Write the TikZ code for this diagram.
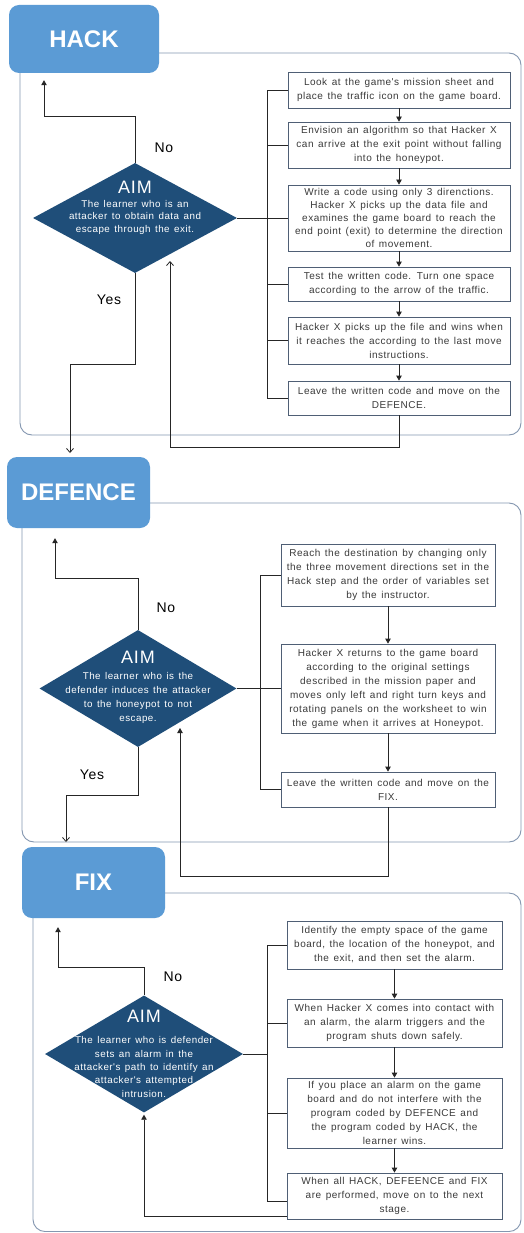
\documentclass[tikz,border=0pt]{standalone}
\usepackage{fontspec}
\setmainfont{Liberation Sans}
\newfontfamily\boxfont{Liberation Sans}[LetterSpace=5,WordSpace=1.4]
\usetikzlibrary{arrows.meta,shapes.geometric}
\definecolor{titlec}{HTML}{5B9BD5}
\definecolor{aimc}{HTML}{1F4E79}
\definecolor{panelc}{HTML}{8497B0}
\definecolor{boxc}{HTML}{4F5F75}
\definecolor{txtc}{HTML}{3A3A3A}
\definecolor{linec}{HTML}{262626}
\tikzset{
  panel/.style={draw=panelc, line width=0.9pt, rounded corners=12pt},
  titlebox/.style={fill=titlec, rounded corners=10pt, text=white, inner sep=0pt,
    font=\fontsize{24}{28}\selectfont\bfseries},
  aimshape/.style={diamond, fill=aimc, inner sep=0pt},
  aimtitle/.style={text=white, inner sep=0pt, font=\boxfont\fontsize{18}{20}\selectfont},
  aimtext/.style={text=white, inner sep=0pt, align=center},
  stepbox/.style={draw=boxc, line width=0.8pt, fill=white, text=txtc, align=center,
    inner sep=0pt, font=\boxfont\fontsize{10}{14}\selectfont},
  lbl/.style={inner sep=0pt, font=\boxfont\fontsize{14}{16}\selectfont},
  conn/.style={draw=linec, line width=0.8pt},
  arrfill/.style={conn, -{Triangle[length=5pt,width=5.5pt]}},
  arropen/.style={conn, -{Straight Barb[length=4pt,width=7pt]}}
}
\begin{document}
\begin{tikzpicture}[x=1pt,y=-1pt]
\useasboundingbox[fill=white] (0,0) rectangle (524,1233);

% ---------- panels ----------
\draw[panel] (20,53) rectangle (521,435);
\draw[panel] (22,503) rectangle (521,842);
\draw[panel] (33,893) rectangle (521,1231.5);

% ---------- titles ----------
\node[titlebox, minimum width=150pt, minimum height=68pt] (ht) at (84,39) {HACK};
\node[titlebox, minimum width=143pt, minimum height=71pt] (dt) at (78.5,492.5) {DEFENCE};
\node[titlebox, minimum width=143pt, minimum height=71pt] (ft) at (93.5,882.5) {FIX};

% ================= HACK =================
\node[aimshape, minimum width=204pt, minimum height=110pt] (hd) at (135,218) {};
\node[aimtitle] (hda) at (135,187) {AIM};
\node[aimtext, font=\boxfont\fontsize{9.8}{12.5}\selectfont] (hdt) at (135,217)
  {The learner who is an\\attacker to obtain data and\\escape through the exit.};

\node[stepbox, minimum width=222pt, minimum height=36pt] (h1) at (399,90)
  {Look at the game's mission sheet and\\place the traffic icon on the game board.};
\node[stepbox, minimum width=222pt, minimum height=46pt] (h2) at (399,145)
  {Envision an algorithm so that Hacker X\\can arrive at the exit point without falling\\into the honeypot.};
\node[stepbox, minimum width=222pt, minimum height=66pt, font=\boxfont\fontsize{10}{13}\selectfont] (h3) at (399,218)
  {Write a code using only 3 direnctions.\\Hacker X picks up the data file and\\examines the game board to reach the\\end point (exit) to determine the direction\\of movement.};
\node[stepbox, minimum width=222pt, minimum height=34pt] (h4) at (399,284)
  {Test the written code. Turn one space\\according to the arrow of the traffic.};
\node[stepbox, minimum width=222pt, minimum height=47pt] (h5) at (399,340.5)
  {Hacker X picks up the file and wins when\\it reaches the according to the last move\\instructions.};
\node[stepbox, minimum width=222pt, minimum height=34pt] (h6) at (399,398)
  {Leave the written code and move on the\\DEFENCE.};

\coordinate (hx) at (267,0);
\draw[conn] (h1.west) -- (h1.west -| hx) -- (h6.west -| hx) -- (h6.west);
\foreach \n in {h2,h3,h4,h5} \draw[conn] (\n.west) -- (\n.west -| hx);
\draw[conn] (hd.east) -- (hd.east -| hx);
\draw[arrfill] (h1.south) -- (h2.north);
\draw[arrfill] (h2.south) -- (h3.north);
\draw[arrfill] (h3.south) -- (h4.north);
\draw[arrfill] (h4.south) -- (h5.north);
\draw[arrfill] (h5.south) -- (h6.north);

\draw[arrfill] (hd.north) -- ++(0,-46) -| ([xshift=-40pt,yshift=-7pt]ht.south);
\node[lbl] (hno) at (164,148) {No};
\coordinate (hyesA) at (135,364);
\coordinate (hyesB) at (70,453);
\draw[arropen] (hd.south) -- (hyesA) -| (hyesB);
\node[lbl] (hyes) at (109,300) {Yes};
\coordinate (hretA) at (0,447);
\coordinate (hretB) at (170,261);
\draw[arropen] (h6.south) -- (h6.south |- hretA) -| (hretB);

% ================= DEFENCE =================
\node[aimshape, minimum width=197pt, minimum height=117pt] (dd) at (138,688.5) {};
\node[aimtitle] (dda) at (138,657) {AIM};
\node[aimtext, font=\boxfont\fontsize{9.8}{14}\selectfont] (ddt) at (138,698)
  {The learner who is the\\defender induces the attacker\\to the honeypot to not\\escape.};

\node[stepbox, minimum width=214pt, minimum height=62pt] (d1) at (388,575)
  {Reach the destination by changing only\\the three movement directions set in the\\Hack step and the order of variables set\\by the instructor.};
\node[stepbox, minimum width=214pt, minimum height=89pt] (d2) at (388,688.5)
  {Hacker X returns to the game board\\according to the original settings\\described in the mission paper and\\moves only left and right turn keys and\\rotating panels on the worksheet to win\\the game when it arrives at Honeypot.};
\node[stepbox, minimum width=214pt, minimum height=35pt] (d3) at (388,789.5)
  {Leave the written code and move on the\\FIX.};

\coordinate (dx) at (260,0);
\draw[conn] (d1.west) -- (d1.west -| dx) -- (d3.west -| dx) -- (d3.west);
\draw[conn] (dd.east) -- (d2.west);
\draw[arrfill] (d1.south) -- (d2.north);
\draw[arrfill] (d2.south) -- (d3.north);

\draw[arrfill] (dd.north) -- ++(0,-51) -| ([xshift=-23.5pt,yshift=-10pt]dt.south);
\node[lbl] (dno) at (166,608) {No};
\coordinate (dyesA) at (138,795);
\coordinate (dyesB) at (66,842);
\draw[arropen] (dd.south) -- (dyesA) -| (dyesB);
\node[lbl] (dyes) at (92,775) {Yes};
\coordinate (dretA) at (0,876);
\coordinate (dretB) at (180,728);
\draw[arrfill] (d3.south) -- (d3.south |- dretA) -| (dretB);

% ================= FIX =================
\node[aimshape, minimum width=198pt, minimum height=117pt] (fd) at (144,1054) {};
\node[aimtitle] (fda) at (144,1016) {AIM};
\node[aimtext, font=\boxfont\fontsize{9.8}{13.3}\selectfont] (fdt) at (144,1067)
  {The learner who is defender\\sets an alarm in the\\attacker's path to identify an\\attacker's attempted\\intrusion.};

\node[stepbox, minimum width=215pt, minimum height=48pt] (f1) at (394.5,945)
  {Identify the empty space of the game\\board, the location of the honeypot, and\\the exit, and then set the alarm.};
\node[stepbox, minimum width=215pt, minimum height=48pt] (f2) at (394.5,1023)
  {When Hacker X comes into contact with\\an alarm, the alarm triggers and the\\program shuts down safely.};
\node[stepbox, minimum width=215pt, minimum height=70pt] (f3) at (394.5,1113)
  {If you place an alarm on the game\\board and do not interfere with the\\program coded by DEFENCE and\\the program coded by HACK, the\\learner wins.};
\node[stepbox, minimum width=215pt, minimum height=46pt] (f4) at (394.5,1196)
  {When all HACK, DEFEENCE and FIX\\are performed, move on to the next\\stage.};

\coordinate (fx) at (267,0);
\draw[conn] (f1.west) -- (f1.west -| fx) -- ([yshift=-5pt]f4.west -| fx) -- ([yshift=-5pt]f4.west);
\draw[conn] (f2.west) -- (f2.west -| fx);
\draw[conn] (f3.west) -- (f3.west -| fx);
\draw[conn] (fd.east) -- (fd.east -| fx);
\draw[arrfill] (f1.south) -- (f2.north);
\draw[arrfill] (f2.south) -- (f3.north);
\draw[arrfill] (f3.south) -- (f4.north);

\draw[arrfill] (fd.north) -- ++(0,-28) -| ([xshift=-35.5pt,yshift=-9pt]ft.south);
\node[lbl] (fno) at (173,977) {No};
\draw[arrfill] ([yshift=-20pt]f4.west) -| ([yshift=-2pt]fd.south);
\end{tikzpicture}
\end{document}
